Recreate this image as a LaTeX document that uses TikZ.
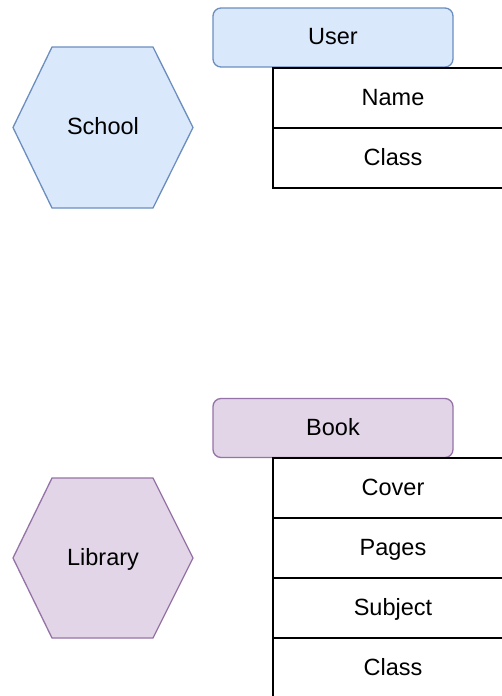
\documentclass[tikz,border=0pt]{standalone}
\usepackage{fontspec}
\setmainfont{Liberation Sans}
\definecolor{bluefill}{HTML}{DAE8FC}
\definecolor{bluedraw}{HTML}{6C8EBF}
\definecolor{purplefill}{HTML}{E1D5E7}
\definecolor{purpledraw}{HTML}{9673A6}
\begin{document}
\begin{tikzpicture}[x=1pt,y=-1pt,
  font=\fontsize{23.5}{28}\selectfont,
  every node/.append style={text height=17pt, text depth=3pt},
  header/.style={draw, rounded corners=8pt, minimum width=240pt, minimum height=59pt, line width=1.3pt, inner sep=0pt},
  cell/.style={draw=black, line width=1.5pt, minimum width=240pt, minimum height=60pt, inner sep=0pt},
  hexa/.style={line width=1.3pt, line join=miter},
  lbl/.style={inner sep=0pt}]
\useasboundingbox (0,0) rectangle (502,696);
\clip (0,0) rectangle (502,696);
\fill[white] (0,0) rectangle (502,696);
% top group
\draw[hexa, fill=bluefill, draw=bluedraw] (13,127.5) -- (52,47) -- (153,47) -- (193,127.5) -- (153,208) -- (52,208) -- cycle;
\node[lbl] (school) at (103,127.5) {School};
\node[header, fill=bluefill, draw=bluedraw] (user) at (333,37.5) {User};
\node[cell] (name) at (393,98) {Name};
\node[cell] (class1) at (393,158) {Class};
% bottom group
\draw[hexa, fill=purplefill, draw=purpledraw] (13,558) -- (52,478) -- (153,478) -- (193,558) -- (153,638) -- (52,638) -- cycle;
\node[lbl] (library) at (103,558) {Library};
\node[header, fill=purplefill, draw=purpledraw] (book) at (333,428) {Book};
\node[cell] (cover) at (393,488) {Cover};
\node[cell] (pages) at (393,548) {Pages};
\node[cell] (subject) at (393,608) {Subject};
\node[cell] (class2) at (393,668) {Class};
\end{tikzpicture}
\end{document}
